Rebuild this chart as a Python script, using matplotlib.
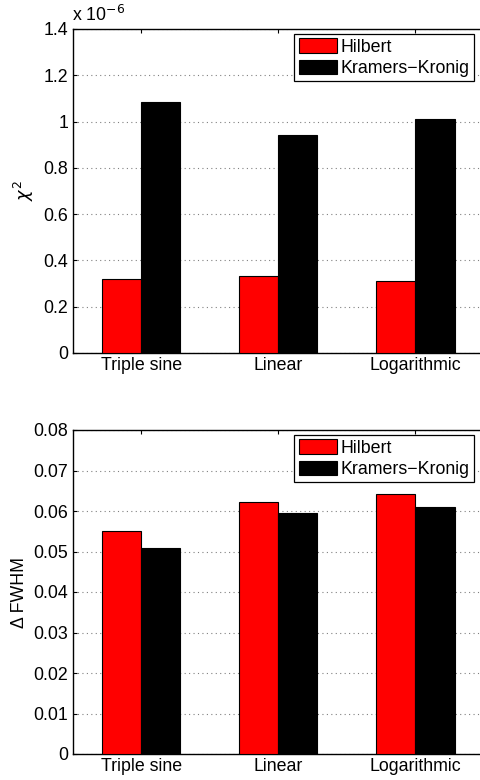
import numpy as np
import matplotlib
matplotlib.use("Agg")
import matplotlib.pyplot as plt

plt.rcParams["font.family"] = ["Liberation Sans", "DejaVu Sans"]
plt.rcParams["font.size"] = 12.8

methods = ["Triple sine", "Linear", "Logarithmic"]
series = ["Hilbert", "Kramers\u2212Kronig"]

# chi^2 in units of 1e-6
chi2_hilbert = [0.321, 0.333, 0.312]
chi2_kk = [1.083, 0.941, 1.010]

fwhm_hilbert = [0.0551, 0.0623, 0.0642]
fwhm_kk = [0.0509, 0.0596, 0.0611]

chi2_ticks = [0, 0.2, 0.4, 0.6, 0.8, 1, 1.2, 1.4]
fwhm_ticks = [0, 0.01, 0.02, 0.03, 0.04, 0.05, 0.06, 0.07, 0.08]

W, H = 480, 780
FS = 12.8
fig = plt.figure(figsize=(W / 100, H / 100), dpi=100)

x = np.arange(1, len(methods) + 1)
bw = 0.286


def panel(rect, h_vals, k_vals, ticks, ylabel, legend_top):
    ax = fig.add_axes(rect)
    ax.bar(x - bw / 2, h_vals, bw, color="#ff0000", edgecolor="black",
           linewidth=0.8, label=series[0], zorder=3)
    ax.bar(x + bw / 2, k_vals, bw, color="black", edgecolor="black",
           linewidth=0.8, label=series[1], zorder=3)
    ax.set_xlim(0.5, 3.5)
    ax.set_ylim(ticks[0], ticks[-1])
    ax.set_xticks(x)
    ax.set_xticklabels(methods)
    ax.set_yticks(ticks)
    ax.set_yticklabels([f"{t:g}" for t in ticks])
    ax.yaxis.grid(True, linestyle=(0, (1, 3)), color="#808080", linewidth=0.8)
    ax.set_axisbelow(True)
    ax.tick_params(direction="in", length=3, top=True, right=True,
                   labelsize=FS, pad=3, width=0.8)
    for s in ax.spines.values():
        s.set_linewidth(1.0)
    ax.set_ylabel(ylabel, fontsize=FS)
    leg = ax.legend(loc="upper right", bbox_to_anchor=(474 / W, 1 - legend_top / H),
                    bbox_transform=fig.transFigure, fancybox=False, framealpha=1,
                    edgecolor="black", handlelength=2.15, handleheight=0.9,
                    handletextpad=0.2, borderpad=0.25, labelspacing=0.2,
                    borderaxespad=0, fontsize=FS)
    leg.get_frame().set_linewidth(0.9)
    return ax


ax1 = panel([72.5 / W, 1 - 353 / H, (484 - 72.5) / W, (353 - 29) / H],
            chi2_hilbert, chi2_kk, chi2_ticks, "$\\chi^2$", 34)
ax1.yaxis.set_label_coords(-36 / 411.5, 0.5)
fig.text(72 / W, 1 - 15 / H, "x 10$^{-6}$", fontsize=FS, va="center", ha="left")

ax2 = panel([72.5 / W, 1 - 754 / H, (484 - 72.5) / W, (754 - 430) / H],
            fwhm_hilbert, fwhm_kk, fwhm_ticks, "\u0394 FWHM", 435)
ax2.yaxis.set_label_coords(-44 / 411.5, 0.5)

fig.savefig("out.png", dpi=100)
